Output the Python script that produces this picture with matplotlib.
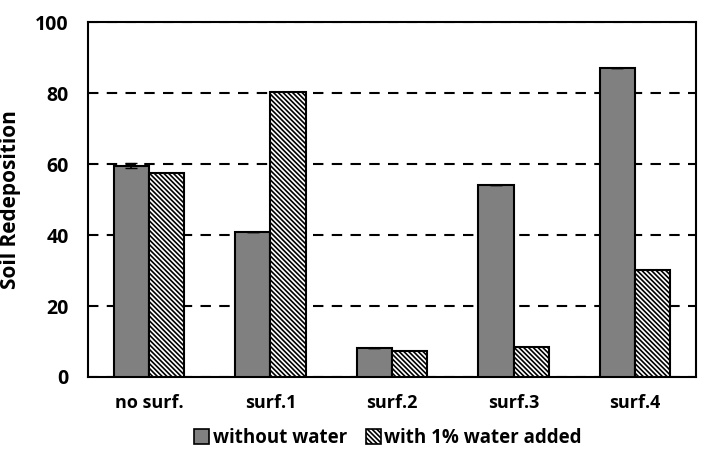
import numpy as np
import matplotlib.pyplot as plt
from matplotlib.patches import Patch

plt.rcParams['hatch.linewidth'] = 1.2
plt.rcParams['font.family'] = ['Open Sans', 'DejaVu Sans']
plt.rcParams['font.weight'] = 'bold'

categories = ['no surf.', 'surf.1', 'surf.2', 'surf.3', 'surf.4']
without_water = [59.6, 40.8, 8.2, 54.0, 87.2]
with_water = [57.4, 80.3, 7.3, 8.5, 30.1]
without_err = [0.6, 0, 0, 0, 0]

x = np.arange(len(categories))
w = 0.29
hatch = '\\\\\\\\\\\\\\'

fig = plt.figure(figsize=(7.05, 4.62), dpi=100)
ax = fig.add_axes([0.125, 0.184, 0.862, 0.768])

ax.bar(x - w / 2, without_water, w, color='#808080', edgecolor='black',
       linewidth=1.5, yerr=without_err, error_kw=dict(ecolor='black', capsize=4, elinewidth=1.2),
       zorder=3, label='without water')
ax.bar(x + w / 2, with_water, w, color='white', edgecolor='black',
       linewidth=1.5, hatch=hatch, zorder=3, label='with 1% water added')

ax.set_ylim(0, 100)
ax.set_xlim(-0.5, len(categories) - 0.5)
ax.set_yticks([0, 20, 40, 60, 80, 100])
ax.yaxis.grid(True, linestyle=(0, (5, 4)), color='black', linewidth=1.5, zorder=0)
ax.tick_params(axis='y', length=0, labelsize=14, pad=14)
ax.tick_params(axis='x', length=0, labelsize=13, pad=12)
ax.set_xticks(x)
ax.set_xticklabels(categories, fontweight='bold')
for t in ax.get_yticklabels():
    t.set_fontweight('bold')
for s in ax.spines.values():
    s.set_linewidth(1.5)

ax.set_ylabel('Soil Redeposition', fontsize=15, fontweight='bold', labelpad=10)

handles = [Patch(facecolor='#808080', edgecolor='black', linewidth=1.2),
           Patch(facecolor='white', edgecolor='black', linewidth=1.2, hatch=hatch)]
fig.legend(handles, ['without water', 'with 1% water added'], loc='center',
           bbox_to_anchor=(0.55, 0.052), ncol=2, frameon=False,
           prop=dict(size=13.5, weight='bold'), handlelength=0.8, handleheight=0.8,
           handletextpad=0.2, columnspacing=1.0)

fig.savefig('out.png', dpi=100)
